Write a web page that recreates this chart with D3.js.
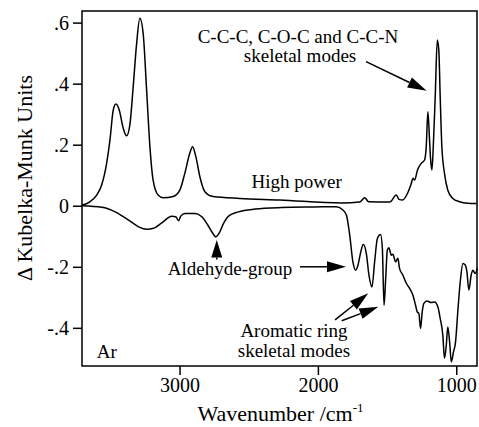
<!DOCTYPE html>
<html><head><meta charset="utf-8">
<script src="https://cdn.jsdelivr.net/npm/d3@7/dist/d3.min.js"></script>
</head>
<body style="margin:0;background:#fff"><svg id="c" width="479" height="427"></svg>
<script>
// ---- data ----
const highW = [3707,3648,3599,3563,3527,3503,3479,3460,3436,3407,3383,3359,3335,3310,3287,3263,3238,3214,3191,3155,3118,3046,2998,2962,2926,2906,2882,2853,2817,2757,2565,2276,1828,1698,1662,1633,1481,1433,1414,1388,1352,1325,1313,1301,1280,1253,1229,1217,1205,1193,1186,1176,1166,1152,1137,1126,1116,1104,1085,1061,1025,976,916,853];
const highV = [0.002,0.013,0.035,0.068,0.139,0.215,0.314,0.333,0.314,0.254,0.229,0.265,0.39,0.532,0.614,0.565,0.379,0.193,0.084,0.035,0.026,0.030,0.051,0.106,0.172,0.193,0.161,0.095,0.046,0.030,0.024,0.019,0.009,0.012,0.026,0.013,0.012,0.035,0.021,0.019,0.041,0.073,0.09,0.084,0.117,0.139,0.15,0.193,0.308,0.215,0.156,0.117,0.193,0.357,0.543,0.51,0.357,0.193,0.106,0.051,0.024,0.013,0.008,0.007];
const lowW = [3705,3561,3465,3368,3296,3236,3188,3128,3056,3027,3007,2991,2960,2887,2839,2796,2760,2738,2714,2682,2646,2574,2454,2261,2021,1866,1819,1794,1770,1747,1727,1710,1690,1672,1650,1631,1609,1590,1570,1547,1534,1522,1510,1498,1487,1469,1458,1438,1422,1410,1386,1361,1337,1313,1294,1282,1270,1258,1246,1234,1212,1181,1157,1133,1116,1097,1085,1072,1061,1048,1036,1020,1005,989,971,952,935,923,909,892,880,863,848];
const lowV = [0,-0.005,-0.020,-0.047,-0.069,-0.077,-0.074,-0.056,-0.034,-0.036,-0.049,-0.034,-0.025,-0.025,-0.036,-0.063,-0.090,-0.102,-0.090,-0.058,-0.034,-0.020,-0.011,-0.006,-0.004,-0.003,-0.014,-0.030,-0.096,-0.184,-0.211,-0.194,-0.151,-0.127,-0.156,-0.227,-0.266,-0.184,-0.107,-0.094,-0.140,-0.326,-0.238,-0.145,-0.138,-0.162,-0.159,-0.184,-0.172,-0.205,-0.227,-0.254,-0.271,-0.293,-0.326,-0.348,-0.353,-0.402,-0.348,-0.320,-0.312,-0.317,-0.315,-0.331,-0.369,-0.424,-0.500,-0.457,-0.397,-0.446,-0.511,-0.479,-0.446,-0.348,-0.249,-0.189,-0.194,-0.216,-0.276,-0.227,-0.211,-0.222,-0.205];
const xTicks = [3000,2000,1000];
const xTickLabels = ["3000","2000","1000"];
const yTicks = [0.6,0.4,0.2,0,-0.2,-0.4];
const yTickLabels = [".6",".4",".2","0","-.2","-.4"];

// ---- layout ----
const FONT="'Liberation Serif', Tinos, 'Times New Roman', serif";
const L=82,R=477,T=11,B=366;
const svg=d3.select("#c");
const x=d3.scaleLinear().domain([3705,850]).range([L,R]);
const y=d3.scaleLinear().domain([-0.525,0.638]).range([B,T]);

const line=d3.line().x(d=>x(d[0])).y(d=>y(d[1])).curve(d3.curveMonotoneX);
svg.append("path").datum(highW.map((w,i)=>[w,highV[i]]))
  .attr("d",line).attr("fill","none").attr("stroke","#000").attr("stroke-width",1.5);
svg.append("path").datum(lowW.map((w,i)=>[w,lowV[i]]))
  .attr("d",line).attr("fill","none").attr("stroke","#000").attr("stroke-width",1.5);

// frame
svg.append("rect").attr("x",L).attr("y",T).attr("width",R-L).attr("height",B-T)
  .attr("fill","none").attr("stroke","#000").attr("stroke-width",1.5);

const ax=svg.append("g").attr("transform",`translate(0,${B})`)
  .call(d3.axisBottom(x).tickValues(xTicks).tickSize(9).tickPadding(3)
    .tickFormat((d,i)=>xTickLabels[i]));
ax.select(".domain").remove();
ax.selectAll("line").attr("stroke-width",1.5);
ax.selectAll("text").attr("font-size",20);

const ay=svg.append("g").attr("transform",`translate(${L},0)`)
  .call(d3.axisLeft(y).tickValues(yTicks).tickSize(9).tickPadding(4)
    .tickFormat((d,i)=>yTickLabels[i]));
ay.select(".domain").remove();
ay.selectAll("line").attr("stroke-width",1.5);
ay.selectAll("text").attr("font-size",20);

// axis titles
const xt=svg.append("text").attr("x",(L+R)/2+1).attr("y",421).attr("text-anchor","middle")
  .attr("font-size",22);
xt.append("tspan").text("Wavenumber /cm");
xt.append("tspan").attr("dy",-9).attr("font-size",13).text("-1");
svg.append("text").attr("transform","translate(32,178) rotate(-90)")
  .attr("text-anchor","middle").attr("font-size",22).text("Δ Kubelka-Munk Units");

// annotations (data coordinates)
const labels=[
  {t:"C-C-C, C-O-C and C-C-N",w:2144,v:0.534,a:"middle"},
  {t:"skeletal modes",w:2129,v:0.470,a:"middle"},
  {t:"High power",w:2153,v:0.057,a:"middle"},
  {t:"Aldehyde-group",w:2635,v:-0.227,a:"middle"},
  {t:"Aromatic ring",w:2173,v:-0.429,a:"middle"},
  {t:"skeletal modes",w:2173,v:-0.494,a:"middle"},
  {t:"Ar",w:3599,v:-0.500,a:"start"}
];
svg.selectAll("text.ann").data(labels).enter().append("text").attr("class","ann")
  .attr("x",d=>x(d.w)).attr("y",d=>y(d.v)).attr("text-anchor",d=>d.a)
  .attr("font-size",19).text(d=>d.t);

const arrows=[
  {w0:1652,v0:0.472,w1:1214,v1:0.377},
  {w0:2731,v0:-0.176,w1:2731,v1:-0.112},
  {w0:2129,v0:-0.200,w1:1797,v1:-0.200},
  {w0:1876,v0:-0.374,w1:1636,v1:-0.287},
  {w0:1828,v0:-0.377,w1:1563,v1:-0.331}
];
arrows.forEach(a=>{
  const x0=x(a.w0),y0=y(a.v0),x1=x(a.w1),y1=y(a.v1);
  const dx=x1-x0,dy=y1-y0,len=Math.hypot(dx,dy),ux=dx/len,uy=dy/len;
  const hl=Math.min(19,len*0.9),hw=5.5;
  const bx=x1-ux*hl,by=y1-uy*hl;
  svg.append("line").attr("x1",x0).attr("y1",y0).attr("x2",bx).attr("y2",by)
    .attr("stroke","#000").attr("stroke-width",1.5);
  svg.append("path").attr("d",`M${x1},${y1}L${bx-uy*hw},${by+ux*hw}L${bx+uy*hw},${by-ux*hw}Z`)
    .attr("fill","#000");
});

// apply font inline to every text
svg.selectAll("text").style("font-family",FONT).attr("font-family",null).style("fill","#000");
svg.selectAll("g").attr("font-family",null);
</script></body></html>
